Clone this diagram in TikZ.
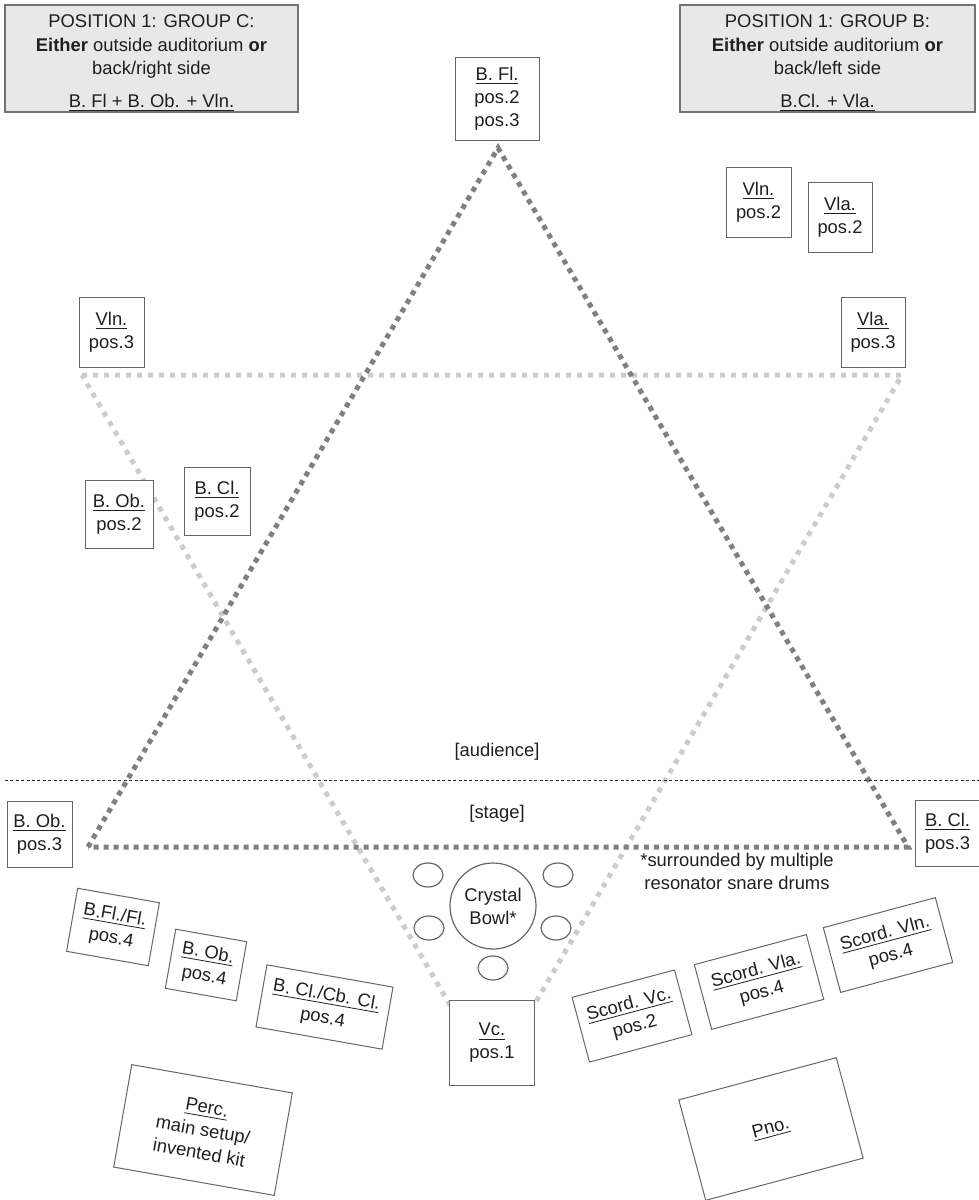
\documentclass[tikz,border=0pt]{standalone}
\usepackage{fontspec}
\setmainfont{Liberation Sans}
\usetikzlibrary{shapes.geometric}
\begin{document}
\begin{tikzpicture}[x=0.5pt,y=-0.5pt,
  every node/.style={font=\fontsize{9.2}{11.5}\selectfont, text=black!88},
  box/.style={draw=black!60, line width=0.5pt, fill=white, align=center, inner sep=0pt},
  grp/.style={draw=black!55, line width=0.6pt, fill=black!9, inner sep=0pt, minimum height=53.5pt},
  grptext/.style={align=center, inner sep=0pt, font=\fontsize{9.2}{11.75}\selectfont},
  darkdot/.style={draw=black!50, line width=2.5pt, dash pattern=on 2.5pt off 2.5pt},
  lightdot/.style={draw=black!20, line width=2.5pt, dash pattern=on 2.5pt off 3pt},
  snare/.style={draw=black!60, line width=0.6pt, ellipse, minimum width=15pt, minimum height=12pt, inner sep=0pt},
  bowl/.style={draw=black!60, line width=0.6pt, circle, minimum size=43pt, inner sep=0pt, align=center},
  divider/.style={draw=black!85, line width=0.4pt, dash pattern=on 1.5pt off 1.2pt}
]
\useasboundingbox (0,0) rectangle (979,1200);

% triangles
\coordinate (dA) at (498,148);
\coordinate (dL) at (88,847);
\coordinate (dR) at (908,847);
\coordinate (lL) at (82,375);
\coordinate (lR) at (902,375);
\coordinate (lB) at (492,1077);
\draw[lightdot] (lL) -- (lR) -- (lB) -- cycle;
\draw[darkdot] (dL) -- (dA) -- (dR) -- cycle;

% divider
\coordinate (divL) at (5,780);
\coordinate (divR) at (979,780);
\draw[divider] (divL) -- (divR);
\node (aud) at (497,752) {[audience]};
\node (stg) at (497,814) {[stage]};

% group boxes
\node[grp, minimum width=146.5pt] (grpC) at (151.5,58.5) {};
\node[grptext] (grpCt) at (151.5,63) {POSITION 1: GROUP C:\\\textbf{Either} outside auditorium \textbf{or}\\back/right side\\[4.5pt]\underline{B. Fl + B. Ob. + Vln.}};
\node[grp, minimum width=147.5pt] (grpB) at (827.5,58.5) {};
\node[grptext] (grpBt) at (827.5,63) {POSITION 1: GROUP B:\\\textbf{Either} outside auditorium \textbf{or}\\back/left side\\[4.5pt]\underline{B.Cl. + Vla.}};

% upright boxes
\node[box, minimum width=42pt, minimum height=41.5pt] (bfl) at (497,98.5) {\underline{B. Fl.}\\pos.2\\pos.3};
\node[box, minimum width=32.5pt, minimum height=35pt] (vln2) at (758.5,202) {\underline{Vln.}\\pos.2};
\node[box, minimum width=32pt, minimum height=35pt] (vla2) at (840,217) {\underline{Vla.}\\pos.2};
\node[box, minimum width=32pt, minimum height=35pt] (vla3) at (873,332) {\underline{Vla.}\\pos.3};
\node[box, minimum width=32.5pt, minimum height=35pt] (vln3) at (111.5,332) {\underline{Vln.}\\pos.3};
\node[box, minimum width=33pt, minimum height=34pt] (bcl2) at (217,501) {\underline{B. Cl.}\\pos.2};
\node[box, minimum width=34pt, minimum height=34pt] (bob2) at (119,514) {\underline{B. Ob.}\\pos.2};
\node[box, minimum width=32.5pt, minimum height=33pt] (bob3) at (39.5,834) {\underline{B. Ob.}\\pos.3};
\node[box, minimum width=32.5pt, minimum height=33pt] (bcl3) at (947.5,833) {\underline{B. Cl.}\\pos.3};
\node[box, minimum width=42.5pt, minimum height=42.5pt] (vc) at (492,1043) {\underline{Vc.}\\pos.1};

% crystal bowl and snares
\node[bowl] (bowl) at (493,906) {Crystal\\Bowl*};
\node[snare] (sn1) at (428,875) {};
\node[snare] (sn2) at (558,875) {};
\node[snare] (sn3) at (429,928) {};
\node[snare] (sn4) at (556,928) {};
\node[snare] (sn5) at (493,968) {};
\node[align=center] (note) at (737,871) {*surrounded by multiple\\resonator snare drums};

% rotated left boxes
\node[box, rotate=-10, minimum width=41.5pt, minimum height=32pt] (bflfl) at (113,927) {\underline{B.Fl./Fl.}\\pos.4};
\node[box, rotate=-10, minimum width=36pt, minimum height=30pt] (bob4) at (206,965) {\underline{B. Ob.}\\pos.4};
\node[box, rotate=-10, minimum width=64pt, minimum height=31.5pt] (bclcb) at (324.5,1007) {\underline{B. Cl./Cb. Cl.}\\pos.4};
\node[box, rotate=-10, minimum width=81.5pt, minimum height=52pt] (perc) at (203,1130) {\underline{Perc.}\\main setup/\\invented kit};

% rotated right boxes
\node[box, rotate=15, minimum width=58pt, minimum height=33.5pt] (svln) at (888,945) {\underline{Scord. Vln.}\\pos.4};
\node[box, rotate=15, minimum width=58pt, minimum height=33.5pt] (svla) at (759,982) {\underline{Scord. Vla.}\\pos.4};
\node[box, rotate=15, minimum width=53pt, minimum height=33.5pt] (svc) at (632,1016) {\underline{Scord. Vc.}\\pos.2};
\node[box, rotate=15, minimum width=81.5pt, minimum height=52pt] (pno) at (771,1129) {\underline{Pno.}};
\end{tikzpicture}
\end{document}
